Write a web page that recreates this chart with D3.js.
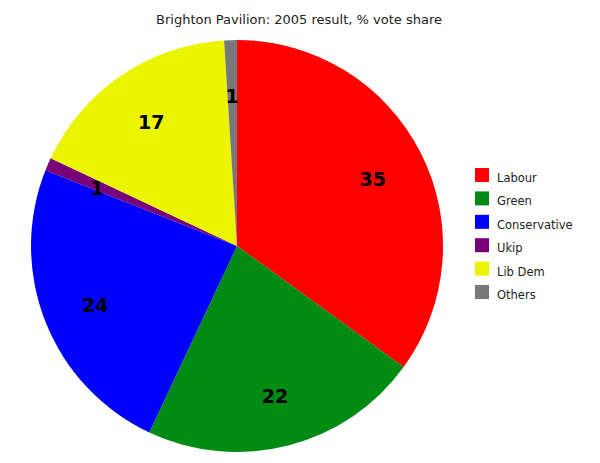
<!DOCTYPE html>
<html>
<head>
<meta charset="utf-8">
<script src="https://cdn.jsdelivr.net/npm/d3@7"></script>
<style>
  body { margin: 0; background: #fff; }
  text { font-family: "DejaVu Sans", sans-serif; }
</style>
</head>
<body>
<div id="chart"></div>
<script>
// data
var parties = ["Labour", "Green", "Conservative", "Ukip", "Lib Dem", "Others"];
var shares = [35, 22, 24, 1, 17, 1];
var colours = ["#ff0000", "#008c14", "#0000ff", "#780078", "#ebf500", "#787878"];

var width = 600, height = 463;
var cx = 237, cy = 246, radius = 206;

var svg = d3.select("#chart").append("svg")
    .attr("width", width)
    .attr("height", height);

// title
svg.append("text")
    .attr("x", 299)
    .attr("y", 24)
    .attr("text-anchor", "middle")
    .attr("font-size", "13px")
    .attr("fill", "#222")
    .text("Brighton Pavilion: 2005 result, % vote share");

var color = d3.scaleOrdinal().domain(parties).range(colours);

var pie = d3.pie()
    .sort(null)
    .value(function(d) { return d.value; });

var data = parties.map(function(p, i) { return { name: p, value: shares[i] }; });

var arc = d3.arc().innerRadius(0).outerRadius(radius);
var labelArc = d3.arc().innerRadius(radius * 0.74).outerRadius(radius * 0.74);

var g = svg.append("g")
    .attr("transform", "translate(" + cx + "," + cy + ")");

var slices = g.selectAll("g.slice")
    .data(pie(data))
    .join("g")
    .attr("class", "slice");

slices.append("path")
    .attr("d", arc)
    .attr("fill", function(d) { return color(d.data.name); });

// value labels, nudged a bit down
slices.append("text")
    .attr("transform", function(d) { return "translate(" + labelArc.centroid(d) + ")"; })
    .attr("text-anchor", "middle")
    .attr("dy", "0.5em")
    .attr("font-size", "19px")
    .attr("font-weight", "bold")
    .attr("fill", "#000")
    .text(function(d) { return d.data.value; });

// legend
var legend = svg.append("g")
    .attr("transform", "translate(475,168)");

var items = legend.selectAll("g")
    .data(parties)
    .join("g")
    .attr("transform", function(d, i) { return "translate(0," + (i * 23.4) + ")"; });

items.append("rect")
    .attr("width", 14)
    .attr("height", 14)
    .attr("fill", function(d) { return color(d); });

items.append("text")
    .attr("x", 22)
    .attr("y", 14)
    .attr("font-size", "11.5px")
    .attr("fill", "#222")
    .text(function(d) { return d; });
</script>
</body>
</html>
